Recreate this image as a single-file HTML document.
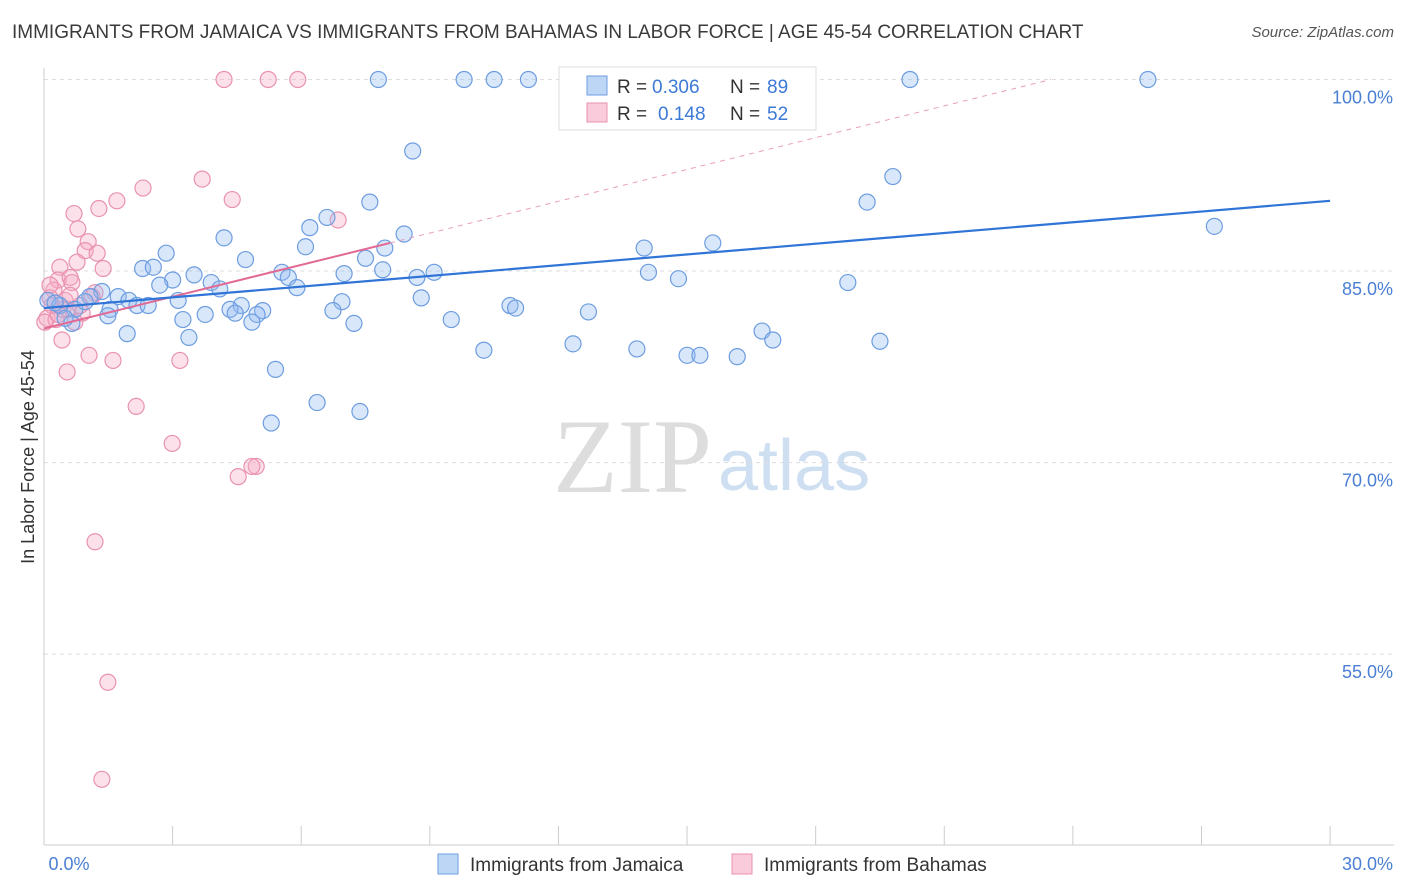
<!DOCTYPE html>
<html><head><meta charset="utf-8">
<style>
body{margin:0;background:#fff;font-family:"Liberation Sans",sans-serif;}
#wrap{position:relative;width:1406px;height:892px;overflow:hidden;}
.title{position:absolute;left:12px;top:22px;font-size:19px;color:#3a3a3a;}
.source{position:absolute;right:12px;top:24px;font-size:15px;color:#555;font-style:italic;}
</style></head><body>
<div id="wrap">
<div class="title">IMMIGRANTS FROM JAMAICA VS IMMIGRANTS FROM BAHAMAS IN LABOR FORCE | AGE 45-54 CORRELATION CHART</div>
<div class="source">Source: ZipAtlas.com</div>
<svg id="svg" width="1406" height="892" style="position:absolute;left:0;top:0"></svg>
</div>
<script>
const blueX=[7.8,9.8,10.5,11.3,20.2,25.75,8.6,19.8,19.2,7.6,6.6,27.3,4.2,8.4,6.2,6.1,7.95,14.0,15.6,2.85,4.7,7.5,2.3,2.55,5.55,7.0,7.9,9.1,8.7,14.1,14.8,18.75,3.5,3.0,3.9,5.7,2.7,4.1,5.9,1.35,1.07,1.73,1.98,3.13,4.6,6.95,8.8,0.09,0.37,0.72,1.54,2.17,2.43,4.34,5.1,3.76,4.46,4.97,6.74,10.87,11.0,12.7,3.24,4.85,7.23,9.5,0.65,1.49,1.94,3.38,12.34,13.83,10.26,15.0,15.3,16.17,16.75,17.0,19.5,5.4,6.37,7.37,5.3,0.26,0.49,0.96];
const blueY=[100,100,100,100,100,100,94.4,92.4,90.4,90.4,89.2,88.5,87.6,87.9,88.4,86.9,86.8,86.8,87.2,86.4,85.9,86.0,85.2,85.3,84.9,84.8,85.1,84.9,84.5,84.9,84.4,84.1,84.7,84.3,84.1,84.5,83.9,83.6,83.7,83.4,83.0,83.0,82.7,82.7,82.3,82.6,82.9,82.7,82.3,82.0,82.0,82.3,82.3,82.0,81.9,81.6,81.7,81.6,81.9,82.3,82.1,81.8,81.2,81.0,80.9,81.2,80.9,81.5,80.1,79.8,79.3,78.9,78.8,78.4,78.4,78.3,80.3,79.6,79.5,77.3,74.7,74.0,73.1,82.5,81.3,82.6];
const pinkX=[4.2,5.23,5.92,3.69,2.31,4.39,1.7,1.28,0.7,6.86,0.79,1.03,0.96,1.24,0.77,1.38,0.37,0.33,0.61,0.65,0.23,1.19,1.12,0.14,0.19,0.44,0.56,0.89,0.07,0.28,0.72,0.42,1.05,1.61,3.17,0.54,2.15,2.99,4.95,4.85,4.53,1.19,1.49,1.35,0.14,0.49,0.33,0.02,0.84,0.61];
const pinkY=[100,100,100,92.2,91.5,90.6,90.5,89.9,89.5,89.0,88.3,87.3,86.6,86.4,85.7,85.2,85.3,84.3,84.5,84.1,83.5,83.3,83.0,82.9,82.3,82.0,82.0,81.7,81.3,81.2,81.0,79.6,78.4,78.0,78.0,77.1,74.4,71.5,69.7,69.7,68.9,63.8,52.8,45.2,83.9,82.7,81.6,81.0,82.3,83.1];
const blueTrend=[82.1,90.5];
const pinkTrend=[80.5,87.2,8.07];
const yTicks=[100,85,70,55];
const xTickVals=[0,3,6,9,12,15,18,21,24,27,30];

const NS="http://www.w3.org/2000/svg";
const svg=document.getElementById('svg');
const X=p=>44+p*42.87;
const Y=v=>79.5+(100-v)*12.77;
function mk(t,a,parent){const e=document.createElementNS(NS,t);for(const k in a)e.setAttribute(k,a[k]);(parent||svg).appendChild(e);return e;}

let wm=mk('text',{x:553,y:492,'font-size':106,'font-family':'Liberation Serif,serif',fill:'#ddd'});wm.textContent='ZIP';


let wm2=mk('text',{x:718,y:490,'font-size':72,'font-family':'Liberation Sans,sans-serif',fill:'#cfdff2'});wm2.textContent='atlas';



yTicks.forEach(v=>{
  const g=mk('line',{x1:44,x2:1394,y1:Y(v),y2:Y(v),stroke:'#ddd','stroke-dasharray':'4,4'});
  
  
  const t=mk('text',{x:1393,y:Y(v)+24,'text-anchor':'end','font-size':18,fill:'#4a7fd4'});
  t.textContent=v.toFixed(1)+'%';
  
  
});
let ax=mk('line',{x1:44,x2:44,y1:68,y2:845,stroke:'#ccc'});


let bx=mk('line',{x1:44,x2:1394,y1:845,y2:845,stroke:'#ccc'});


xTickVals.forEach(p=>{
  const t=mk('line',{x1:X(p),x2:X(p),y1:826,y2:845,stroke:'#ccc'});
  
  
});
[[0,'0.0%',69,'middle'],[30,'30.0%',1393,'end']].forEach(d=>{
  const t=mk('text',{x:d[2],y:870,'text-anchor':d[3],'font-size':18,fill:'#4a7fd4'});
  t.textContent=d[1];
  
  
});
let yt=mk('text',{x:0,y:0,'font-size':18,fill:'#333','text-anchor':'middle',transform:'translate(34,457) rotate(-90)'});
yt.textContent='In Labor Force | Age 45-54';



pinkX.forEach((p,i)=>{
  const c=mk('circle',{cx:X(p),cy:Y(pinkY[i]),r:8,fill:'rgba(245,168,195,0.35)',stroke:'#e992b0','stroke-width':1.2});
  
  
});
blueX.forEach((p,i)=>{
  const c=mk('circle',{cx:X(p),cy:Y(blueY[i]),r:8,fill:'rgba(147,187,240,0.35)',stroke:'#6d9de0','stroke-width':1.2});
  
  
});
const ps=(pinkTrend[1]-pinkTrend[0])/pinkTrend[2];
const pEnd=(100-pinkTrend[0])/ps;
let pd=mk('line',{x1:X(pinkTrend[2]),y1:Y(pinkTrend[1]),x2:X(pEnd),y2:Y(100),stroke:'#e8a0b8','stroke-dasharray':'5,5','stroke-width':1});


let pl=mk('line',{x1:X(0),y1:Y(pinkTrend[0]),x2:X(pinkTrend[2]),y2:Y(pinkTrend[1]),stroke:'#e26a94','stroke-width':2});


let bl=mk('line',{x1:X(0),y1:Y(blueTrend[0]),x2:X(30),y2:Y(blueTrend[1]),stroke:'#2f74d6','stroke-width':2.2});



let lg=mk('g',{});


mk('rect',{x:559,y:67,width:257,height:63,fill:'#fff',stroke:'#ddd'},lg);
mk('rect',{x:587,y:76,width:20,height:19,fill:'rgba(147,187,240,0.6)',stroke:'#6d9de0'},lg);
mk('rect',{x:587,y:103,width:20,height:19,fill:'rgba(245,168,195,0.6)',stroke:'#e992b0'},lg);
function lt(x,y,s,col){const t=mk('text',{x:x,y:y,'font-size':19,fill:col},lg);t.textContent=s;return t;}
lt(617,93,'R = ','#333');lt(652,93,'0.306','#3d7ad6');lt(730,93,'N = ','#333');lt(767,93,'89','#3d7ad6');
lt(617,120,'R = ','#333');lt(658,120,'0.148','#3d7ad6');lt(730,120,'N = ','#333');lt(767,120,'52','#3d7ad6');

let bl2=mk('g',{});


mk('rect',{x:438,y:854,width:20,height:20,fill:'rgba(147,187,240,0.6)',stroke:'#6d9de0'},bl2);
mk('rect',{x:732,y:854,width:20,height:20,fill:'rgba(245,168,195,0.6)',stroke:'#e992b0'},bl2);
let t1=mk('text',{x:470,y:871,'font-size':19,fill:'#333'},bl2);t1.textContent='Immigrants from Jamaica';
let t2=mk('text',{x:764,y:871,'font-size':19,fill:'#333'},bl2);t2.textContent='Immigrants from Bahamas';
</script>
</body></html>
